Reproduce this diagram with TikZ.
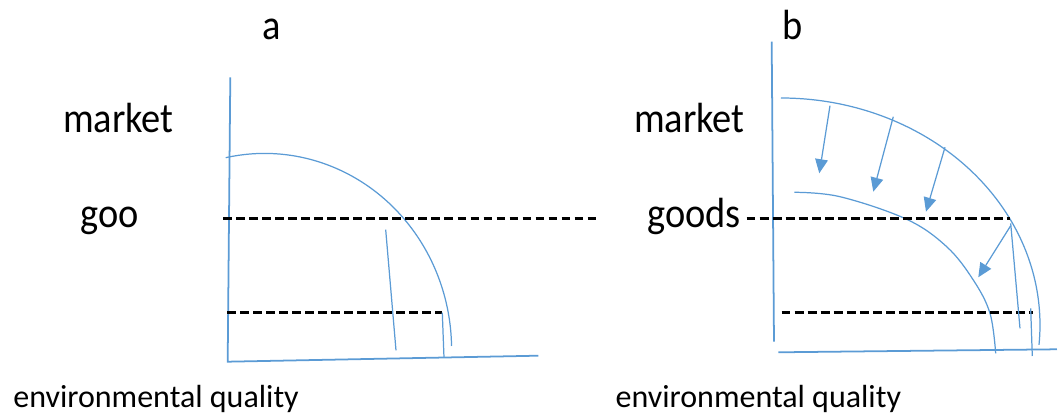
\documentclass[tikz,border=0pt]{standalone}
\usepackage{fontspec}
\setmainfont{Carlito}
\newfontfamily\labelfont[FakeStretch=0.91]{Carlito}
\usetikzlibrary{arrows.meta,positioning}
\definecolor{lineblue}{HTML}{5B9BD5}

\begin{document}
\begin{tikzpicture}[x=0.01cm,y=-0.01cm,
    axis/.style={draw=lineblue,line width=0.5pt},
    curve/.style={draw=lineblue,line width=0.35pt},
    guide/.style={draw=black,line width=0.95pt,dash pattern=on 2.5pt off 1.2pt},
    shiftarrow/.style={draw=lineblue,line width=0.35pt,-{Triangle[length=4pt,width=3.6pt]}},
    biglabel/.style={font=\labelfont\fontsize{12}{14}\selectfont,inner sep=0pt,anchor=base west},
    smalllabel/.style={font=\fontsize{9.1}{11}\selectfont,inner sep=0pt,anchor=base west}]
	\useasboundingbox (0,0) rectangle (1059,418);
	% labels
	\node[biglabel] (ta) at (261.7,39.3) {a};
	\node[biglabel] (tb) at (781.7,39.3) {b};
	\node[biglabel] (marketA) at (62.3,133) {market};
	\node[biglabel] (marketB) at (633.3,133) {market};
	\node[biglabel] (gooA) at (80,228) {goo};
	\node[biglabel] (goodsB) at (646.7,228) {goods};
	\node[smalllabel] (envA) at (12.7,407.5) {environmental quality};
	\node[smalllabel] (envB) at (615,407.5) {environmental quality};
	% panel a
	\coordinate (oA) at (227.7,361.7);
	\coordinate (yA) at (230.3,77.3);
	\coordinate (xA) at (538.3,355.7);
	\draw[axis] (yA) -- (oA) -- (xA);
	\coordinate (ppfA) at (225.7,157.7);
	\draw[curve] (ppfA) arc[start angle=-102,end angle=-1,x radius=187,y radius=196];
	\coordinate (hiA0) at (223.3,218.7);
	\coordinate (hiA1) at (598,218.7);
	\coordinate (loA0) at (227.3,312.7);
	\coordinate (loA1) at (442.3,312.7);
	\coordinate (footA) at (444,357.7);
	\draw[guide] (hiA0) -- (hiA1);
	\draw[guide] (loA0) -- (loA1);
	\draw[curve] (loA1) -- (footA);
	\coordinate (slA0) at (385.7,229.7);
	\coordinate (slA1) at (396,350.3);
	\draw[curve] (slA0) -- (slA1);
	% panel b
	\coordinate (yB) at (771.7,41.7);
	\coordinate (yB1) at (774,341.7);
	\coordinate (xB0) at (778.3,352.3);
	\coordinate (xB) at (1057,349.3);
	\draw[axis] (yB) -- (yB1);
	\draw[axis] (xB0) -- (xB);
	\coordinate (ppfB) at (781,98);
	\draw[curve] (ppfB) arc[start angle=-90,end angle=5,x radius=259,y radius=227];
	\draw[curve] plot[smooth,tension=0.6] coordinates {(794.3,192.3) (840,196.7) (906.7,219.3) (946.7,246.7) (973.3,280) (990,313.3) (995.7,353.3)};
	\coordinate (hiB0) at (746.7,218.7);
	\coordinate (hiB1) at (1010,218.7);
	\coordinate (loB0) at (781.7,312.7);
	\coordinate (loB1) at (1033.3,312.7);
	\draw[guide] (hiB0) -- (hiB1);
	\draw[guide] (loB0) -- (loB1);
	\coordinate (footB0) at (1030.7,308.3);
	\coordinate (footB1) at (1032.3,356);
	\draw[curve] (footB0) -- (footB1);
	\coordinate (slB0) at (1010.7,223.3);
	\coordinate (slB1) at (1020,328.3);
	\draw[curve] (slB0) -- (slB1);
	% shift arrows
	\coordinate (s1) at (830,105.7);   \coordinate (e1) at (819.3,173.3);
	\coordinate (s2) at (893.3,116.7); \coordinate (e2) at (873.3,191.7);
	\coordinate (s3) at (945,147.3);   \coordinate (e3) at (926,211.7);
	\coordinate (s4) at (1010.7,225.7); \coordinate (e4) at (978.3,277.3);
	\foreach \i in {1,...,4}
		\draw[shiftarrow] (s\i) -- (e\i);
\end{tikzpicture}
\end{document}
